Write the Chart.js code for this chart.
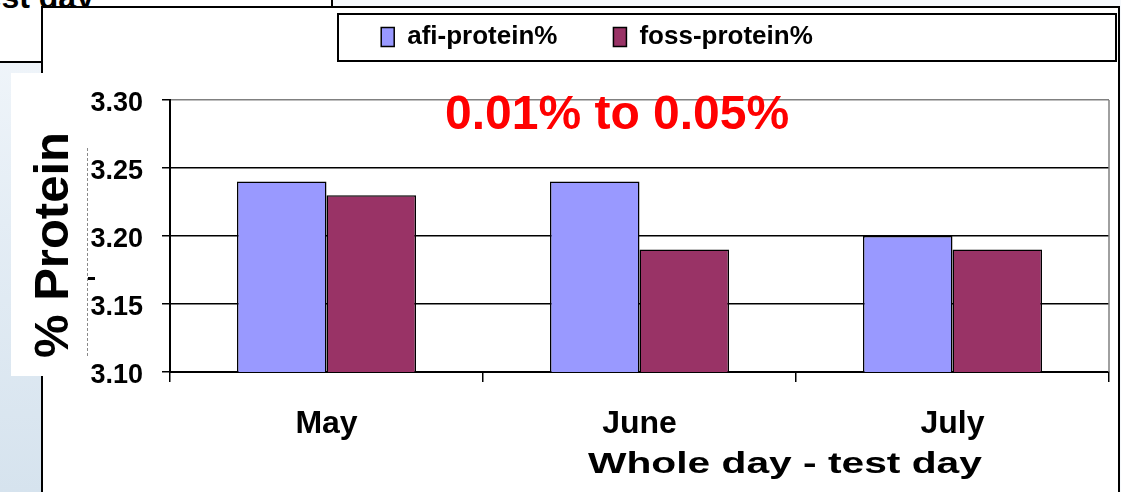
<!DOCTYPE html>
<html>
<head>
<meta charset="utf-8">
<script src="https://cdn.jsdelivr.net/npm/chart.js@4.4.1/dist/chart.umd.min.js"></script>
<style>
html,body{margin:0;padding:0;}
body{width:1121px;height:492px;overflow:hidden;position:relative;background:#f6f9fc;font-family:'Liberation Sans',Arial,Helvetica,sans-serif;}
#strip{position:absolute;left:0;top:0;width:60px;height:492px;background:linear-gradient(180deg,#f3f7fb 0%,#e4edf5 45%,#d6e3ee 100%);}
#topbox{position:absolute;left:-2px;top:-2px;width:333px;height:63px;background:#fff;border-right:2px solid #000;border-bottom:2px solid #000;overflow:hidden;}
#toptext{position:absolute;left:-25px;top:-17px;font-weight:bold;font-size:32px;line-height:1;color:#000;white-space:nowrap;}
#frame{position:absolute;left:41px;top:6px;width:1075px;height:520px;background:#fff;border:2px solid #000;}
#legendbox{position:absolute;left:337px;top:13px;width:776px;height:45px;border:2px solid #000;background:#fff;}
#ybox{position:absolute;left:11px;top:73px;width:77px;height:303px;background:#fff;}
#ydash{position:absolute;left:87px;top:148px;width:0;height:208px;border-left:1px dashed #8a8a8a;}
#ymark{position:absolute;left:88px;top:277px;width:7px;height:3px;background:#000;}
#c{position:absolute;left:0;top:0;}
#ytitle{position:absolute;left:27px;top:358px;transform-origin:0 0;transform:rotate(-90deg);font-weight:bold;font-size:49px;line-height:1;color:#000;white-space:nowrap;}
#note{position:absolute;left:445px;top:89px;font-weight:bold;font-size:48px;line-height:1;color:#ff0000;white-space:nowrap;}
#xtitle{position:absolute;left:588px;top:448px;transform-origin:0 0;transform:scaleX(1.358);font-weight:bold;font-size:30px;line-height:1;color:#000;white-space:nowrap;}
</style>
</head>
<body>
<div id="strip"></div>
<div id="topbox"><div id="toptext">test day</div></div>
<div id="frame"></div>
<div id="legendbox"></div>
<div id="ybox"></div>
<div id="ydash"></div>
<div id="ymark"></div>
<canvas id="c" width="1121" height="492"></canvas>
<div id="ytitle">% Protein</div>
<div id="note">0.01% to 0.05%</div>
<div id="xtitle">Whole day - test day</div>
<script>
const categories = ['May', 'June', 'July'];
const afiProtein = [3.24, 3.24, 3.20];
const fossProtein = [3.23, 3.19, 3.19];
const yTickValues = [3.10, 3.15, 3.20, 3.25, 3.30];
const seriesNames = ['afi-protein%', 'foss-protein%'];

const FONT = "'Liberation Sans', Arial, Helvetica, sans-serif";
const yMin = yTickValues[0];
const yMax = yTickValues[yTickValues.length - 1];

const plotBorder = {
  id: 'plotBorder',
  beforeDatasetsDraw(chart) {
    const {ctx, chartArea: a} = chart;
    ctx.save();
    ctx.strokeStyle = '#808080';
    ctx.lineWidth = 1.5;
    ctx.beginPath();
    ctx.moveTo(a.right, a.top);
    ctx.lineTo(a.right, a.bottom);
    ctx.stroke();
    ctx.restore();
  }
};

new Chart(document.getElementById('c'), {
  type: 'bar',
  data: {
    labels: categories,
    datasets: [
      {label: seriesNames[0], data: afiProtein, backgroundColor: '#9999ff', borderColor: '#000000', borderWidth: 1.5},
      {label: seriesNames[1], data: fossProtein, backgroundColor: '#993366', borderColor: '#000000', borderWidth: 1.5}
    ]
  },
  options: {
    responsive: false,
    animation: false,
    devicePixelRatio: 1,
    layout: {padding: {left: 85, right: 12, top: -32, bottom: 0}},
    datasets: {bar: {barPercentage: 1.0, categoryPercentage: 0.572}},
    plugins: {
      tooltip: {enabled: false},
      title: {
        display: true,
        text: '',
        weight: 500,
        font: {size: 10, lineHeight: 1},
        padding: {top: 30, bottom: 0}
      },
      legend: {
        display: true,
        position: 'top',
        align: 'center',
        labels: {
          color: '#000',
          font: {family: FONT, size: 26, weight: 'bold'},
          boxWidth: 13,
          boxHeight: 19,
          padding: 56
        }
      }
    },
    scales: {
      x: {
        grid: {display: true, drawOnChartArea: false, drawTicks: true, tickLength: 10, color: '#000', lineWidth: 1.5, offset: true},
        border: {display: true, color: '#000', width: 2},
        ticks: {color: '#000', font: {family: FONT, size: 32, weight: 'bold'}, padding: 23, maxRotation: 0},
        afterFit(scale) { scale.height = 120; }
      },
      y: {
        min: yMin,
        max: yMax,
        afterBuildTicks(scale) { scale.ticks = yTickValues.map(v => ({value: v})); },
        grid: {
          color: (c) => (c.tick && Math.abs(c.tick.value - yMax) < 1e-9) ? '#808080' : '#000',
          tickColor: '#000',
          lineWidth: 1.5,
          tickLength: 8
        },
        border: {display: true, color: '#000', width: 2},
        ticks: {
          color: '#000',
          font: {family: FONT, size: 27, weight: 'bold'},
          padding: 19,
          labelOffset: 4,
          callback: (v) => Number(v).toFixed(2)
        },
        afterFit(scale) { scale.width = 85; }
      }
    }
  },
  plugins: [plotBorder]
});
</script>
</body>
</html>
